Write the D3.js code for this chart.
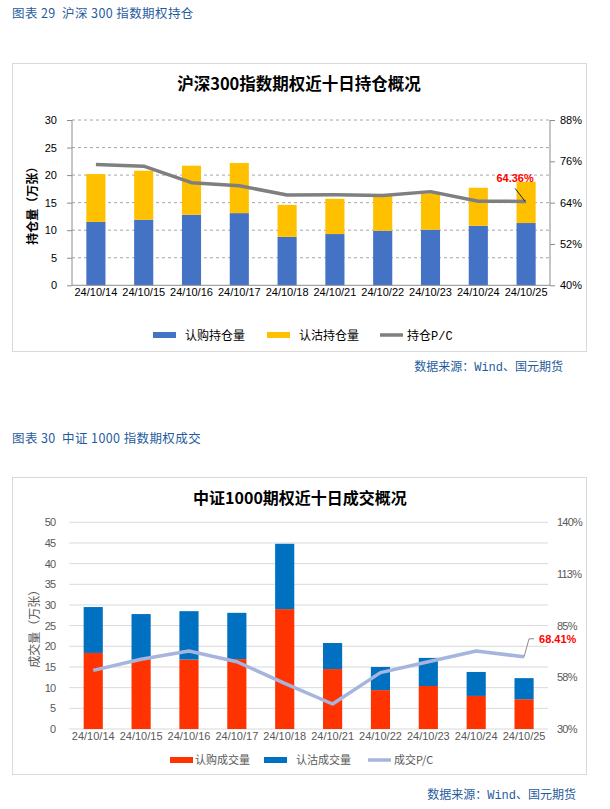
<!DOCTYPE html>
<html><head><meta charset="utf-8">
<script src="https://cdn.jsdelivr.net/npm/d3@7"></script>
<style>
body{margin:0;background:#fff;}
svg{display:block;}
.cap{white-space:pre;}
</style></head>
<body>
<svg id="c" width="610" height="809"></svg>
<script>
// ---------- DATA ----------
const dates = ["24/10/14","24/10/15","24/10/16","24/10/17","24/10/18","24/10/21","24/10/22","24/10/23","24/10/24","24/10/25"];

// Chart 1: 沪深300 open interest (万张) and P/C (%)
const oiCall = [11.5, 11.9, 12.8, 13.1, 8.8, 9.3, 9.9, 10.1, 10.8, 11.3];
const oiPut  = [8.7, 8.9, 8.9, 9.1, 5.8, 6.4, 6.4, 6.6, 6.9, 7.5];
const oiPC   = [75.1, 74.6, 69.8, 68.9, 66.2, 66.3, 66.1, 67.2, 64.4, 64.36];
const oiLeftTicks  = [0, 5, 10, 15, 20, 25, 30];
const oiRightTicks = [40, 52, 64, 76, 88];

// Chart 2: 中证1000 volume (万张) and P/C (%)
const volCall = [18.4, 16.7, 16.8, 16.9, 29.0, 14.5, 9.4, 10.4, 8.0, 7.2];
const volPut  = [11.1, 11.1, 11.7, 11.2, 15.8, 6.3, 5.6, 6.8, 5.8, 5.1];
const volPC   = [61.2, 67.1, 71.5, 65.8, 54.3, 43.3, 60.0, 65.8, 71.5, 68.41];
const volLeftTicks  = [0, 5, 10, 15, 20, 25, 30, 35, 40, 45, 50];
const volRightTicks = [30, 57.5, 85, 112.5, 140];

const svg = d3.select("#c");
const latin = "'Liberation Sans', Arial, 'Noto Sans CJK SC', sans-serif";
const cjk = "'Noto Sans CJK SC', 'Liberation Sans', sans-serif";
const mono = "'Liberation Mono', 'Noto Sans CJK SC', monospace";
const capColor = "#1f5c9e";

// ---------- Captions & sources ----------
svg.append("text").attr("class", "cap").attr("x", 12).attr("y", 17.5).attr("font-family", cjk).attr("font-size", 12.5)
  .attr("fill", capColor).attr("letter-spacing", "0.4px").text("图表 29  沪深 300 指数期权持仓");
svg.append("text").attr("class", "cap").attr("x", 12).attr("y", 442.5).attr("font-family", cjk).attr("font-size", 12.5)
  .attr("fill", capColor).attr("letter-spacing", "0.4px").text("图表 30  中证 1000 指数期权成交");
svg.append("text").attr("x", 563).attr("y", 371).attr("text-anchor", "end").attr("font-family", mono)
  .attr("font-size", 12).attr("fill", capColor).text("数据来源：Wind、国元期货");
svg.append("text").attr("x", 576).attr("y", 799).attr("text-anchor", "end").attr("font-family", mono)
  .attr("font-size", 12).attr("fill", capColor).text("数据来源：Wind、国元期货");

// ---------- Chart 1 ----------
(function(){
  const g = svg.append("g");
  g.append("rect").attr("x", 12.5).attr("y", 63.5).attr("width", 574).attr("height", 288)
    .attr("fill", "#fff").attr("stroke", "#d9d9d9");
  const L = 72, R = 550, T = 120, B = 285.3;
  const x = d3.scaleBand().domain(dates).range([L, R]).paddingInner(0.6).paddingOuter(0.3);
  const y = d3.scaleLinear().domain([0, 30]).range([B, T]);
  const y2 = d3.scaleLinear().domain([40, 88]).range([B, T]);

  g.append("g").selectAll("line").data(oiLeftTicks.filter(d => d > 0)).join("line")
    .attr("x1", L).attr("x2", R).attr("y1", d => y(d)).attr("y2", d => y(d))
    .attr("stroke", "#a6a6a6").attr("stroke-dasharray", "3,3");

  const bars = g.append("g");
  bars.selectAll(".c").data(dates).join("rect")
    .attr("x", d => x(d)).attr("width", x.bandwidth())
    .attr("y", (d, i) => y(oiCall[i])).attr("height", (d, i) => y(0) - y(oiCall[i]))
    .attr("fill", "#4472c4");
  bars.selectAll(".p").data(dates).join("rect")
    .attr("x", d => x(d)).attr("width", x.bandwidth())
    .attr("y", (d, i) => y(oiCall[i] + oiPut[i])).attr("height", (d, i) => y(oiCall[i]) - y(oiCall[i] + oiPut[i]))
    .attr("fill", "#ffc000");

  const ax = g.append("g").attr("transform", `translate(${L},0)`)
    .call(d3.axisLeft(y).tickValues(oiLeftTicks).tickSize(5).tickPadding(10));
  const ax2 = g.append("g").attr("transform", `translate(${R},0)`)
    .call(d3.axisRight(y2).tickValues(oiRightTicks).tickSize(5).tickPadding(5).tickFormat(d => d + "%"));
  const axb = g.append("g").attr("transform", `translate(0,${B})`)
    .call(d3.axisBottom(x).tickSize(0).tickPadding(3));
  [ax, ax2, axb].forEach(a => {
    a.selectAll("path, line").attr("stroke", "#8c8c8c");
    a.selectAll("text").attr("font-family", latin).attr("font-size", 11).attr("fill", "#000");
  });
  ax.select(".domain").remove();
  g.append("line").attr("x1", L).attr("x2", L).attr("y1", T).attr("y2", B).attr("stroke", "#8c8c8c");
  ax2.select(".domain").attr("d", `M0,${T}V${B}`);
  axb.select(".domain").attr("d", `M${L},0H${R}`);

  const line = d3.line().x((d, i) => x(dates[i]) + x.bandwidth() / 2).y(d => y2(d));
  g.append("path").datum(oiPC).attr("d", line).attr("fill", "none")
    .attr("stroke", "#7f7f7f").attr("stroke-width", 3.5).attr("stroke-linejoin", "round");

  const lx = x(dates[9]) + x.bandwidth() / 2, ly = y2(oiPC[9]);
  g.append("line").attr("x1", lx - 1).attr("y1", ly).attr("x2", lx - 11).attr("y2", ly - 13)
    .attr("stroke", "#262626").attr("stroke-width", 1);
  g.append("text").attr("x", lx - 11).attr("y", ly - 19).attr("text-anchor", "middle")
    .attr("font-family", latin).attr("font-size", 11).attr("font-weight", "bold").attr("fill", "#ff0000")
    .text(oiPC[9].toFixed(2) + "%");

  g.append("text").attr("x", 299).attr("y", 90).attr("text-anchor", "middle")
    .attr("font-family", cjk).attr("font-size", 16.5).attr("font-weight", "bold").attr("fill", "#000")
    .text("沪深300指数期权近十日持仓概况");
  g.append("text").attr("transform", `translate(37,${(T + B) / 2}) rotate(-90)`).attr("text-anchor", "middle")
    .attr("font-family", cjk).attr("font-size", 12).attr("font-weight", "bold").attr("fill", "#000")
    .text("持仓量（万张）");

  const leg = [
    {t: "认购持仓量", c: "#4472c4", x: 153, tx: 185, h: 6, f: cjk},
    {t: "认沽持仓量", c: "#ffc000", x: 267, tx: 299, h: 6, f: cjk},
    {t: "持仓P/C", c: "#7f7f7f", x: 380, tx: 407, h: 3.5, f: mono}
  ];
  leg.forEach(d => {
    g.append("rect").attr("x", d.x).attr("y", 335 - d.h / 2).attr("width", 23).attr("height", d.h).attr("fill", d.c);
    g.append("text").attr("x", d.tx).attr("y", 339.5).attr("font-family", d.f).attr("font-size", 12)
      .attr("fill", "#000").text(d.t);
  });
})();

// ---------- Chart 2 ----------
(function(){
  const g = svg.append("g");
  g.append("rect").attr("x", 12.5).attr("y", 477.5).attr("width", 574).attr("height", 297)
    .attr("fill", "#fff").attr("stroke", "#d9d9d9");
  const L = 69.3, R = 548, T = 522.3, B = 729;
  const x = d3.scaleBand().domain(dates).range([L, R]).paddingInner(0.6).paddingOuter(0.3);
  const y = d3.scaleLinear().domain([0, 50]).range([B, T]);
  const y2 = d3.scaleLinear().domain([30, 140]).range([B, T]);

  g.append("g").selectAll("line").data(volLeftTicks).join("line")
    .attr("x1", L).attr("x2", R).attr("y1", d => y(d)).attr("y2", d => y(d))
    .attr("stroke", "#d9d9d9");

  const bars = g.append("g");
  bars.selectAll(".c").data(dates).join("rect")
    .attr("x", d => x(d)).attr("width", x.bandwidth())
    .attr("y", (d, i) => y(volCall[i])).attr("height", (d, i) => y(0) - y(volCall[i]))
    .attr("fill", "#ff3300");
  bars.selectAll(".p").data(dates).join("rect")
    .attr("x", d => x(d)).attr("width", x.bandwidth())
    .attr("y", (d, i) => y(volCall[i] + volPut[i])).attr("height", (d, i) => y(volCall[i]) - y(volCall[i] + volPut[i]))
    .attr("fill", "#0070c0");

  const ax = g.append("g").attr("transform", `translate(${L},0)`)
    .call(d3.axisLeft(y).tickValues(volLeftTicks).tickSize(0).tickPadding(14));
  const ax2 = g.append("g").attr("transform", `translate(${R},0)`)
    .call(d3.axisRight(y2).tickValues(volRightTicks).tickSize(0).tickPadding(9).tickFormat(d => Math.round(d) + "%"));
  const axb = g.append("g").attr("transform", `translate(0,${B})`)
    .call(d3.axisBottom(x).tickSize(0).tickPadding(3));
  [ax, ax2, axb].forEach(a => {
    a.select(".domain").remove();
    a.selectAll("text").attr("font-family", latin).attr("font-size", 11).attr("fill", "#595959");
  });
  ax.selectAll("text").attr("letter-spacing", "-0.8px");
  ax2.selectAll("text").attr("letter-spacing", "-0.8px");

  const line = d3.line().x((d, i) => x(dates[i]) + x.bandwidth() / 2).y(d => y2(d));
  g.append("path").datum(volPC).attr("d", line).attr("fill", "none")
    .attr("stroke", "#a6b5de").attr("stroke-width", 3.5).attr("stroke-linejoin", "round");

  const lx = x(dates[9]) + x.bandwidth() / 2, ly = y2(volPC[9]);
  g.append("path").attr("d", `M${lx},${ly}L${lx + 5},${ly - 18}H${lx + 10}`)
    .attr("fill", "none").attr("stroke", "#8c8c8c").attr("stroke-width", 1);
  g.append("text").attr("x", lx + 15).attr("y", ly - 14)
    .attr("font-family", latin).attr("font-size", 11).attr("font-weight", "bold").attr("fill", "#ff0000")
    .text(volPC[9].toFixed(2) + "%");

  g.append("text").attr("x", 300).attr("y", 504).attr("text-anchor", "middle")
    .attr("font-family", cjk).attr("font-size", 16).attr("font-weight", "bold").attr("fill", "#000")
    .text("中证1000期权近十日成交概况");
  g.append("text").attr("transform", `translate(39,${(T + B) / 2}) rotate(-90)`).attr("text-anchor", "middle")
    .attr("font-family", cjk).attr("font-size", 12).attr("fill", "#595959")
    .text("成交量（万张）");

  const leg = [
    {t: "认购成交量", c: "#ff3300", x: 170, tx: 195, h: 6, f: cjk},
    {t: "认沽成交量", c: "#0070c0", x: 264, tx: 296, h: 6, f: cjk},
    {t: "成交P/C", c: "#a6b5de", x: 368, tx: 394, h: 3.5, f: cjk}
  ];
  leg.forEach(d => {
    g.append("rect").attr("x", d.x).attr("y", 760 - d.h / 2).attr("width", 23).attr("height", d.h).attr("fill", d.c);
    g.append("text").attr("x", d.tx).attr("y", 764).attr("font-family", d.f).attr("font-size", 11)
      .attr("fill", "#595959").text(d.t);
  });
})();
</script>
</body></html>
